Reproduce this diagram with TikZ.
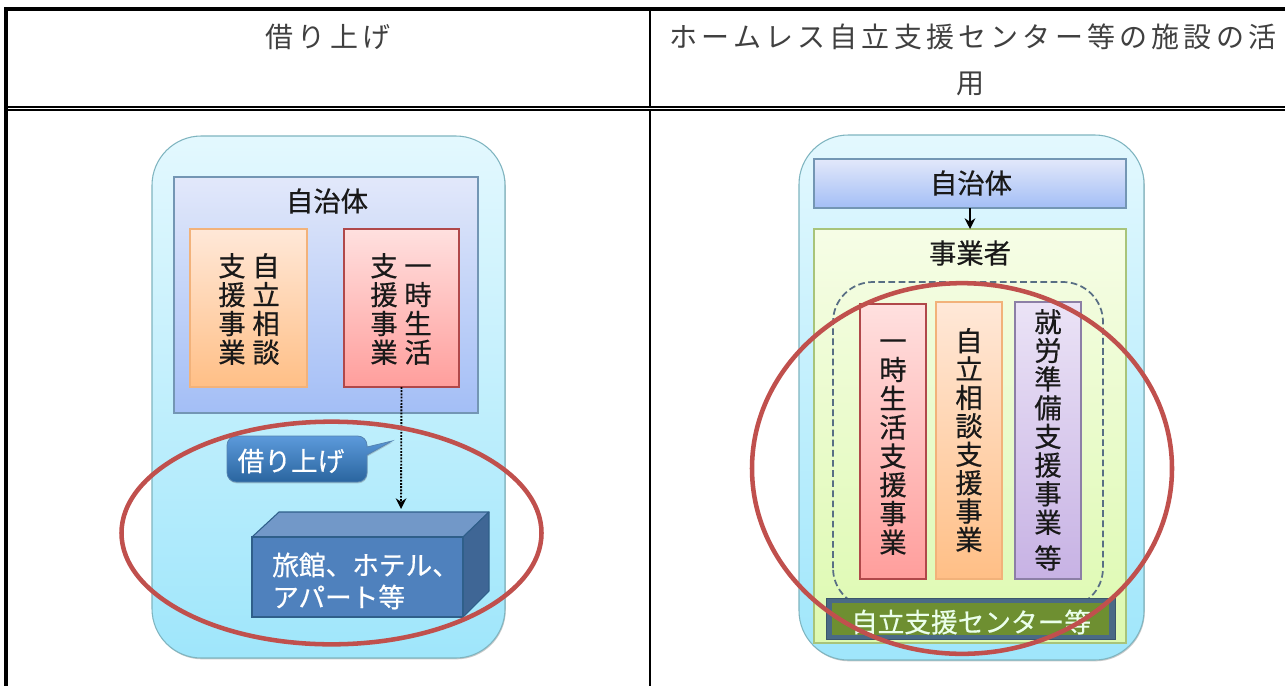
\documentclass[tikz,border=0pt]{standalone}
\usepackage{fontspec}
\usetikzlibrary{shapes.geometric,arrows.meta,shadows}
\setmainfont{Noto Sans CJK JP}
\newfontfamily\cjkwide[LetterSpace=15]{Noto Sans CJK JP}
\newfontfamily\cjkheavy[FakeBold=0.5]{Noto Sans CJK JP}
\newcommand\eqh{\vphantom{業}}
\definecolor{ringred}{HTML}{C0504D}
\definecolor{skyT}{HTML}{E3F8FE}
\definecolor{skyB}{HTML}{9FE6FB}
\definecolor{skyL}{HTML}{7FB5C0}
\definecolor{blueT}{HTML}{E2E8FA}
\definecolor{blueB}{HTML}{A3BEF6}
\definecolor{blueL}{HTML}{7396B4}
\definecolor{orgT}{HTML}{FFE8D8}
\definecolor{orgB}{HTML}{FFBF86}
\definecolor{orgL}{HTML}{F2B27A}
\definecolor{redT}{HTML}{FFE0DF}
\definecolor{redB}{HTML}{FF9E9C}
\definecolor{redL}{HTML}{B0484A}
\definecolor{purT}{HTML}{EBE3F6}
\definecolor{purB}{HTML}{C7B2E4}
\definecolor{purL}{HTML}{8C7FA6}
\definecolor{grnT}{HTML}{F6FDE6}
\definecolor{grnB}{HTML}{DDF9B0}
\definecolor{grnL}{HTML}{A8C47A}
\definecolor{cubeF}{HTML}{4F81BD}
\definecolor{cubeT}{HTML}{7298C8}
\definecolor{cubeS}{HTML}{3F6695}
\definecolor{cubeL}{HTML}{2F5F8A}
\definecolor{calT}{HTML}{5C9ADB}
\definecolor{calB}{HTML}{2A659F}
\definecolor{barF}{HTML}{6E8F31}
\definecolor{barL}{HTML}{4A6A85}
\definecolor{dashL}{HTML}{586E84}
\tikzset{
  x=0.75pt,y=-0.75pt,
  pxbox/.style n args={4}{rectangle,inner sep=0pt,outer sep=0pt,anchor=center,
    at={({(#1+#3)/2},{(#2+#4)/2})},
    minimum width={(#3-#1)*0.75pt},minimum height={(#4-#2)*0.75pt}},
  softshadow/.style={drop shadow={shadow xshift=0.6pt,shadow yshift=-1pt,opacity=.35,fill=black!60}},
  outerbox/.style={draw=skyL,line width=.8pt,top color=skyT,bottom color=skyB,rounded corners=37pt,softshadow},
  bluebox/.style={draw=blueL,line width=.9pt,top color=blueT,bottom color=blueB,softshadow},
  orgbox/.style={draw=orgL,line width=.9pt,top color=orgT,bottom color=orgB,softshadow},
  redbox/.style={draw=redL,line width=1.1pt,top color=redT,bottom color=redB,softshadow},
  purbox/.style={draw=purL,line width=.9pt,top color=purT,bottom color=purB,softshadow},
  grnbox/.style={draw=grnL,line width=.9pt,top color=grnT,bottom color=grnB},
  ring/.style={ellipse,draw=ringred,line width=3.4pt,inner sep=0pt,outer sep=0pt},
  hdr/.style={inner sep=0pt,font=\cjkwide\fontsize{21pt}{24pt}\selectfont,text=black!75},
  lab/.style={inner sep=0pt,font=\cjkheavy\fontsize{20.5pt}{24pt}\selectfont,text=black!90},
  stack/.style={inner sep=0pt,align=center,font=\cjkheavy\fontsize{20.5pt}{#1}\selectfont,text=black!90},
  wlab/.style={inner sep=0pt,font=\cjkheavy\fontsize{20pt}{24pt}\selectfont,text=white},
  rule/.style={fill=black,draw=none},
}
\begin{document}
\begin{tikzpicture}
\useasboundingbox (0,0) rectangle (1285,686);
\clip (0,0) rectangle (1285,686);
\fill[white] (0,0) rectangle (1285,686);

% table
\path[rule] (4,7) rectangle (1285,11);
\path[rule] (4,7) rectangle (8,686);
\path[rule] (649,11) rectangle (651,686);
\path[rule] (8,105.8) rectangle (1285,107.6);
\path[rule] (8,109.2) rectangle (1285,111);
\fill[white] (649,107.6) rectangle (651,109.2);
\node[hdr] (hl) at (328,37) {借り上げ};
\node[hdr] (hr) at (973,37) {ホームレス自立支援センター等の施設の活};
\node[hdr] (hr2) at (970,84) {用};

% left panel
\node[pxbox={152}{136}{505}{658},outerbox] (lo) {};
\node[pxbox={174}{177}{478}{413},bluebox] (lb) {};
\node[lab] (lbt) at (327,201) {自治体};
\node[pxbox={190}{229}{307}{387},orgbox] (lor) {};
\node[pxbox={344}{229}{459}{387},redbox] (lre) {};
\node[stack=21.6pt] (lor2) at (266,309) {\eqh 自\\立\\相\\\eqh 談};
\node[stack=21.6pt] (lor1) at (232,309) {\eqh 支\\援\\事\\\eqh 業};
\node[stack=21.6pt] (lre2) at (418,309) {\eqh 一\\時\\生\\\eqh 活};
\node[stack=21.6pt] (lre1) at (384,309) {\eqh 支\\援\\事\\\eqh 業};

% callout
\path[top color=calT,bottom color=calB,draw=calB!80!white,line width=.6pt,drop shadow={shadow xshift=0.4pt,shadow yshift=-1pt,opacity=.3,fill=black!60}]
  (392,441) -- (367,455) [rounded corners=7pt] -- (367,482) -- (227,482) -- (227,436) -- (367,436) [sharp corners] -- (367,447) -- cycle;
\node[wlab] (cal) at (291,461) {借り上げ};

% cube
\coordinate (cA) at (252,537);
\coordinate (cB) at (279,512);
\coordinate (cC) at (489,512);
\coordinate (cD) at (463,537);
\coordinate (cE) at (489,591);
\coordinate (cF) at (463,617);
\filldraw[fill=cubeT,draw=cubeL,line width=.8pt,line join=round] (cA) -- (cB) -- (cC) -- (cD) -- cycle;
\filldraw[fill=cubeS,draw=cubeL,line width=.8pt,line join=round] (cD) -- (cC) -- (cE) -- (cF) -- cycle;
\node[pxbox={252}{537}{463}{617},fill=cubeF,draw=cubeL,line width=.8pt] (cube) {};
\node[wlab,anchor=west] (cu1) at (272,565) {旅館、ホテル、};
\node[wlab,anchor=west] (cu2) at (272,597) {アパート等};

\coordinate (cubetop) at (401,509);
\draw[line width=1.4pt,dash pattern=on 1.4pt off 1pt,-{Stealth[length=8pt,width=8pt]}] (lre.south) -- (cubetop);

\node[ring,minimum width=315pt,minimum height=167pt] (rl) at (331.5,533) {};

% right panel
\node[pxbox={799}{135}{1144}{660},outerbox] (ro) {};
\node[pxbox={814}{229}{1126}{643},grnbox] (rg) {};
\node[pxbox={814}{159}{1126}{208},bluebox] (rb) {};
\node[lab] (rbt) at (971,183) {自治体};
\draw[line width=1.3pt,-{Stealth[length=8pt,width=8pt]}] (rb.south) -- (rg.north);
\node[lab] (rgt) at (970,253) {事業者};
\draw[draw=dashL,line width=1.3pt,dash pattern=on 5pt off 2.6pt,rounded corners=30pt] (833,608) -- (833,282) -- (1103,282) -- (1103,608) -- cycle;
\node[pxbox={860}{304}{926}{579},redbox] (r1) {};
\node[pxbox={936}{302}{1002}{579},orgbox] (r2) {};
\node[pxbox={1015}{302}{1081}{579},purbox] (r3) {};
\node[stack=21.6pt] (r1t) at (893,441.5) {\eqh 一\\時\\生\\活\\支\\援\\事\\\eqh 業};
\node[stack=21.3pt] (r2t) at (969,440) {\eqh 自\\立\\相\\談\\支\\援\\事\\\eqh 業};
\node[stack=21.5pt] (r3t) at (1048,422) {\eqh 就\\労\\準\\備\\支\\援\\事\\\eqh 業};
\node[lab] (r3e) at (1048,558) {等};
\node[pxbox={826}{598}{1115}{639},fill=barL,draw=barL!80!black,line width=.6pt] (bar) {};
\node[pxbox={832}{603}{1109}{635},fill=barF] (barin) {};
\node[wlab,text=white!92!green] (bart) at (971,622) {自立支援センター等};

\node[ring,minimum width=315pt,minimum height=278pt] (rr) at (962,468.5) {};
\end{tikzpicture}
\end{document}
